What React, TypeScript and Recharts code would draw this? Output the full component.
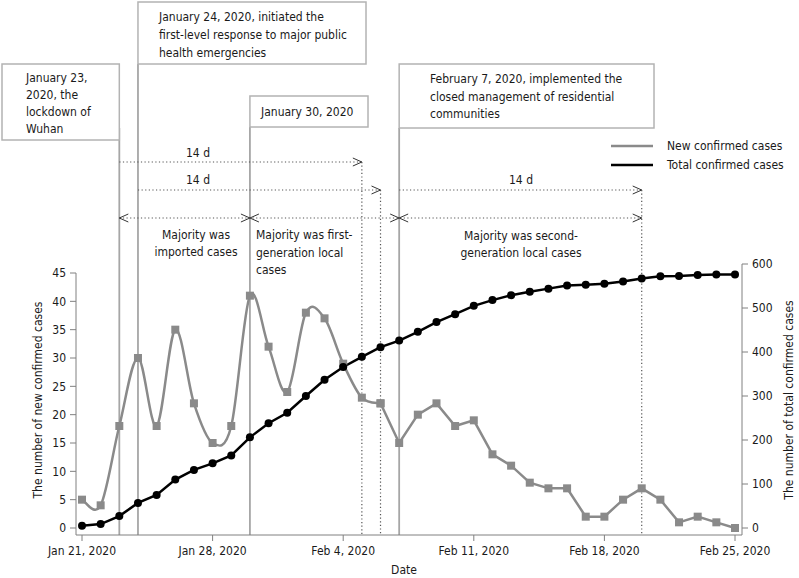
import { LineChart, Line, XAxis, YAxis } from 'recharts';

const dates = [
  'Jan 21', 'Jan 22', 'Jan 23', 'Jan 24', 'Jan 25', 'Jan 26', 'Jan 27', 'Jan 28', 'Jan 29', 'Jan 30', 'Jan 31',
  'Feb 1', 'Feb 2', 'Feb 3', 'Feb 4', 'Feb 5', 'Feb 6', 'Feb 7', 'Feb 8', 'Feb 9', 'Feb 10', 'Feb 11', 'Feb 12',
  'Feb 13', 'Feb 14', 'Feb 15', 'Feb 16', 'Feb 17', 'Feb 18', 'Feb 19', 'Feb 20', 'Feb 21', 'Feb 22', 'Feb 23',
  'Feb 24', 'Feb 25',
];
const newCases = [
  5, 4, 18, 30, 18, 35, 22, 15, 18, 41, 32, 24, 38, 37, 29, 23, 22, 15, 20, 22, 18, 19, 13, 11, 8, 7, 7, 2, 2, 5,
  7, 5, 1, 2, 1, 0,
];
const totalCases = [
  5, 9, 27, 57, 75, 110, 132, 147, 165, 206, 238, 262, 300, 337, 366, 389, 411, 426, 446, 468, 486, 505, 518, 529,
  537, 544, 551, 553, 555, 560, 567, 572, 573, 575, 576, 576,
];
const tickDays = [0, 7, 14, 21, 28, 35];
const tickLabels = ['Jan 21, 2020', 'Jan 28, 2020', 'Feb 4, 2020', 'Feb 11, 2020', 'Feb 18, 2020', 'Feb 25, 2020'];
const leftTicks = [0, 5, 10, 15, 20, 25, 30, 35, 40, 45];
const rightTicks = [0, 100, 200, 300, 400, 500, 600];
// the new-cases curve is smoothed up to Feb 6, straight after
const smoothUntil = 16;

const data = dates.map((date, i) => ({
  day: i,
  date,
  newSmooth: i <= smoothUntil ? newCases[i] : null,
  newLinear: i >= smoothUntil ? newCases[i] : null,
  total: totalCases[i],
}));

const GRAY = '#8a8a8a';
const FONT = "'DejaVu Sans Condensed', 'DejaVu Sans', sans-serif";

// catmull-rom style smoothing, like a spreadsheet "smoothed line"
const smoothCurve = (context: any) => {
  let xs: number[] = [];
  let ys: number[] = [];
  return {
    areaStart() {},
    areaEnd() {},
    lineStart() {
      xs = [];
      ys = [];
    },
    point(x: number, y: number) {
      xs.push(+x);
      ys.push(+y);
    },
    lineEnd() {
      const n = xs.length;
      if (!n) return;
      context.moveTo(xs[0], ys[0]);
      for (let i = 0; i < n - 1; i++) {
        const a = Math.max(i - 1, 0);
        const b = Math.min(i + 2, n - 1);
        context.bezierCurveTo(
          xs[i] + (xs[i + 1] - xs[a]) / 6,
          ys[i] + (ys[i + 1] - ys[a]) / 6,
          xs[i + 1] - (xs[b] - xs[i]) / 6,
          ys[i + 1] - (ys[b] - ys[i]) / 6,
          xs[i + 1],
          ys[i + 1],
        );
      }
    },
  };
};

const squareDot = (p: any) =>
  p.cx == null || p.cy == null ? (
    <g key={`sq-${p.index}`} />
  ) : (
    <rect key={`sq-${p.index}`} x={p.cx - 4} y={p.cy - 4} width={8} height={8} fill={GRAY} />
  );

// annotation layer sits under the chart; x positions follow the chart's day spacing
const dayX = (d: number) => 82 + (d * 653) / 35;

const Chevron = ({ x, y, dir }: { x: number; y: number; dir: 1 | -1 }) => (
  <polyline
    points={`${x - dir * 9},${y - 4} ${x},${y} ${x - dir * 9},${y + 4}`}
    fill="none"
    stroke="#333"
    strokeWidth={1}
  />
);

const Dotted = ({ x1, y1, x2, y2 }: { x1: number; y1: number; x2: number; y2: number }) => (
  <line x1={x1} y1={y1} x2={x2} y2={y2} stroke="#555" strokeWidth={1.2} strokeDasharray="1.2 2.4" />
);

const Box = ({ x, y, w, h }: { x: number; y: number; w: number; h: number }) => (
  <rect x={x} y={y} width={w} height={h} fill="#fff" stroke="#b3b3b3" strokeWidth={1.5} />
);

const Lines = ({ x, y, lines, step = 17.5, anchor = 'start' }: any) => (
  <text x={x} y={y} textAnchor={anchor} fontSize={12} fill="#1a1a1a">
    {lines.map((l: string, i: number) => (
      <tspan key={i} x={x} dy={i === 0 ? 0 : step}>
        {l}
      </tspan>
    ))}
  </text>
);

const Annotations = () => {
  const d23 = dayX(2);
  const d24 = dayX(3);
  const d30 = dayX(9);
  const f5 = dayX(15);
  const f6 = dayX(16);
  const f7 = dayX(17);
  const f20 = dayX(30);
  const base = 535;
  return (
    <svg width={799} height={578} style={{ position: 'absolute', left: 0, top: 0, fontFamily: FONT }}>
      <line x1={d23} y1={128} x2={d23} y2={base} stroke="#a6a6a6" strokeWidth={1.8} />
      <line x1={d24} y1={64} x2={d24} y2={base} stroke="#a6a6a6" strokeWidth={1.8} />
      <line x1={d30} y1={127} x2={d30} y2={base} stroke="#a6a6a6" strokeWidth={1.8} />
      <line x1={f7} y1={128} x2={f7} y2={base} stroke="#a6a6a6" strokeWidth={1.8} />

      <Box x={2} y={64} w={d23 - 2} h={76} />
      <Lines x={26} y={82} lines={['January 23,', '2020, the', 'lockdown of', 'Wuhan']} step={17} />
      <Box x={d24} y={2} w={366 - d24} h={62} />
      <Lines
        x={159}
        y={21}
        lines={['January 24, 2020, initiated the', 'first-level response to major public', 'health emergencies']}
        step={18}
      />
      <Box x={d30} y={96} w={368 - d30} h={31} />
      <Lines x={261} y={116} lines={['January 30, 2020']} />
      <Box x={f7} y={64} w={654 - f7} h={64} />
      <Lines
        x={430}
        y={83}
        lines={['February 7, 2020, implemented the', 'closed management of residential', 'communities']}
        step={17.5}
      />

      <Dotted x1={d23} y1={162} x2={f5} y2={162} />
      <Chevron x={f5} y={162} dir={1} />
      <Dotted x1={f5} y1={162} x2={f5} y2={base} />
      <text x={198} y={157} textAnchor="middle" fontSize={12} fill="#1a1a1a">14 d</text>

      <Dotted x1={d24} y1={190} x2={f6} y2={190} />
      <Chevron x={f6} y={190} dir={1} />
      <Dotted x1={f6} y1={190} x2={f6} y2={base} />
      <text x={198} y={184} textAnchor="middle" fontSize={12} fill="#1a1a1a">14 d</text>

      <Dotted x1={f7} y1={190} x2={f20} y2={190} />
      <Chevron x={f20} y={190} dir={1} />
      <Dotted x1={f20} y1={190} x2={f20} y2={base} />
      <text x={521} y={184} textAnchor="middle" fontSize={12} fill="#1a1a1a">14 d</text>

      <Dotted x1={d23} y1={218} x2={f20} y2={218} />
      <Chevron x={d23} y={218} dir={-1} />
      <Chevron x={d30} y={218} dir={1} />
      <Chevron x={d30} y={218} dir={-1} />
      <Chevron x={f7} y={218} dir={1} />
      <Chevron x={f7} y={218} dir={-1} />
      <Chevron x={f20} y={218} dir={1} />

      <Lines x={196} y={239} lines={['Majority was', 'imported cases']} anchor="middle" step={17} />
      <Lines x={256} y={239} lines={['Majority was first-', 'generation local', 'cases']} step={17.5} />
      <Lines x={521} y={240} lines={['Majority was second-', 'generation local cases']} anchor="middle" step={17} />

      <line x1={611} y1={146} x2={653} y2={146} stroke={GRAY} strokeWidth={2.5} />
      <text x={667} y={150} fontSize={12} fill="#1a1a1a">New confirmed cases</text>
      <line x1={611} y1={165} x2={653} y2={165} stroke="#000" strokeWidth={2.5} />
      <text x={667} y={169} fontSize={12} fill="#1a1a1a">Total confirmed cases</text>

      {/* left axis line starts at the 45 tick, not at the top of the plot */}
      <line x1={76} y1={273} x2={76} y2={base} stroke="#808080" strokeWidth={1} />

      <text x={42} y={400} transform="rotate(-90 42 400)" textAnchor="middle" fontSize={12} fill="#1a1a1a">
        The number of new confirmed cases
      </text>
      <text x={793} y={400} transform="rotate(-90 793 400)" textAnchor="middle" fontSize={12} fill="#1a1a1a">
        The number of total confirmed cases
      </text>
      <text x={404} y={574} textAnchor="middle" fontSize={12} fill="#1a1a1a">
        Date
      </text>
    </svg>
  );
};

const tickStyle = { fontSize: 12, fill: '#1a1a1a' };

const App = () => (
  <div style={{ position: 'absolute', left: 0, top: 0, width: 799, height: 578, background: '#fff', fontFamily: FONT }}>
    <Annotations />
    <div style={{ position: 'absolute', left: 0, top: 0 }}>
      <LineChart width={799} height={578} data={data} margin={{ top: 264, right: 0, bottom: 0, left: 0 }}>
        <XAxis
          type="number"
          dataKey="day"
          domain={[0, 35]}
          ticks={tickDays}
          tickFormatter={(v: number) => tickLabels[tickDays.indexOf(v)] ?? ''}
          padding={{ left: 6, right: 7 }}
          height={43}
          stroke="#808080"
          tick={tickStyle}
          tickSize={6}
          tickMargin={5}
          interval={0}
        />
        <YAxis
          yAxisId="left"
          domain={[0, 45]}
          ticks={leftTicks}
          padding={{ top: 9, bottom: 7 }}
          width={76}
          axisLine={false}
          stroke="#808080"
          tick={tickStyle}
          tickSize={6}
          tickMargin={4}
          interval={0}
        />
        <YAxis
          yAxisId="right"
          orientation="right"
          domain={[0, 600]}
          ticks={rightTicks}
          padding={{ top: 0, bottom: 7 }}
          width={57}
          stroke="#808080"
          tick={tickStyle}
          tickSize={6}
          tickMargin={4}
          interval={0}
        />
        <Line
          yAxisId="left"
          dataKey="newSmooth"
          type={smoothCurve as any}
          stroke={GRAY}
          strokeWidth={2.5}
          dot={squareDot}
          activeDot={false}
          isAnimationActive={false}
        />
        <Line
          yAxisId="left"
          dataKey="newLinear"
          type="linear"
          stroke={GRAY}
          strokeWidth={2.5}
          dot={squareDot}
          activeDot={false}
          isAnimationActive={false}
        />
        <Line
          yAxisId="right"
          dataKey="total"
          type="linear"
          stroke="#000"
          strokeWidth={2.5}
          dot={{ r: 4, fill: '#000', stroke: '#000', strokeWidth: 0 }}
          activeDot={false}
          isAnimationActive={false}
        />
      </LineChart>
    </div>
  </div>
);

export default App;
